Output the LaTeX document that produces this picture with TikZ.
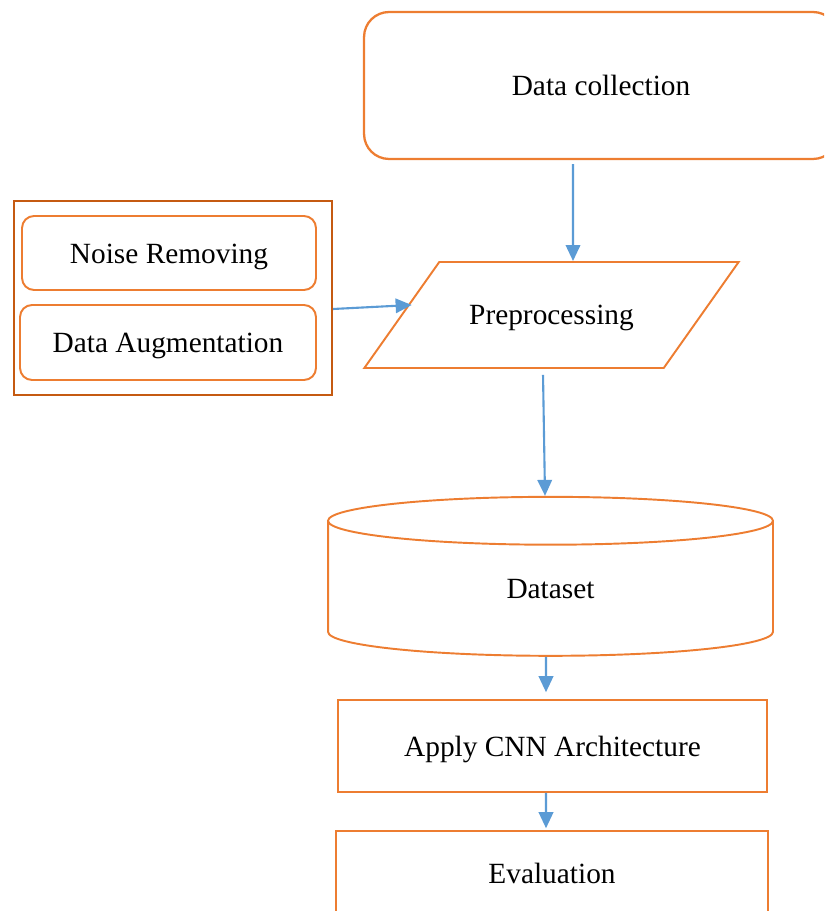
\documentclass[tikz,border=0pt]{standalone}
\usepackage{fontspec}
\setmainfont{Liberation Serif}
\usetikzlibrary{shapes,arrows.meta}
\definecolor{boxorange}{HTML}{ED7D31}
\definecolor{darkorange}{HTML}{C55A11}
\definecolor{arrowblue}{HTML}{5B9BD5}
\tikzstyle{block} = [rectangle, draw=boxorange, line width=0.9pt, text centered, minimum width=8.6cm, minimum height=1.84cm]
\tikzstyle{roundbox} = [rectangle, draw=boxorange, line width=1.1pt, rounded corners=0.24cm, minimum height=1.48cm]
\tikzstyle{io} = [trapezium, draw=boxorange, line width=1.1pt, trapezium left angle=33, trapezium right angle=147, trapezium stretches=true, minimum width=7.5cm, minimum height=2.12cm, text height=0.46cm, text depth=0.07cm]
\tikzstyle{store} = [cylinder, draw=boxorange, line width=1.1pt, shape border rotate=90, aspect=0.48, minimum width=8.9cm, minimum height=3.18cm]
\tikzstyle{line} = [draw=arrowblue, line width=1.2pt, -{Triangle[width=0.29cm,length=0.32cm]}]

\begin{document}
\begin{tikzpicture}[x=0.02cm, y=-0.02cm, font=\fontsize{16.7}{20}\selectfont, every node/.style={text height=0.42cm, text depth=0cm}]
    \path [use as bounding box, clip] (0,0) rectangle (824,911);
    \node [roundbox, rounded corners=0.5cm, line width=1.3pt, minimum width=9.48cm, minimum height=2.94cm] (dataCollection) at (601,85.5) {Data collection};
    \node [io] (preprocessing) at (551.5,315) {Preprocessing};
    \node [rectangle, draw=darkorange, line width=1.2pt, minimum width=6.36cm, minimum height=3.88cm] (steps) at (173,298) {};
    \node [roundbox, minimum width=5.88cm] (noiseRemoving) at (169,253) {Noise Removing};
    \node [roundbox, minimum width=5.92cm, minimum height=1.5cm] (dataAugmentation) at (168,342.5) {Data Augmentation};
    \node [store, text height=0.26cm] (dataset) at (550.5,591.5) {Dataset};
    \node [block, minimum width=8.58cm] (applyCNN) at (552.5,746) {Apply CNN Architecture};
    \node [block, minimum width=8.64cm, text height=0.24cm] (evaluation) at (552,877) {Evaluation};
    \path [line] ([xshift=-0.56cm,yshift=-0.08cm]dataCollection.south) -- ([xshift=0.43cm]preprocessing.north);
    \path [line] ([yshift=-0.22cm]steps.east) -- ([xshift=0.22cm,yshift=0.2cm]preprocessing.west);
    \path [line] ([xshift=-0.17cm,yshift=-0.12cm]preprocessing.south) -- ([xshift=-0.11cm]dataset.north);
    \path [line] ([xshift=-0.09cm]dataset.south) -- ([xshift=-0.13cm,yshift=0.14cm]applyCNN.north);
    \path [line] ([xshift=-0.13cm]applyCNN.south) -- ([xshift=-0.12cm,yshift=0.04cm]evaluation.north);
  \end{tikzpicture}
\end{document}
